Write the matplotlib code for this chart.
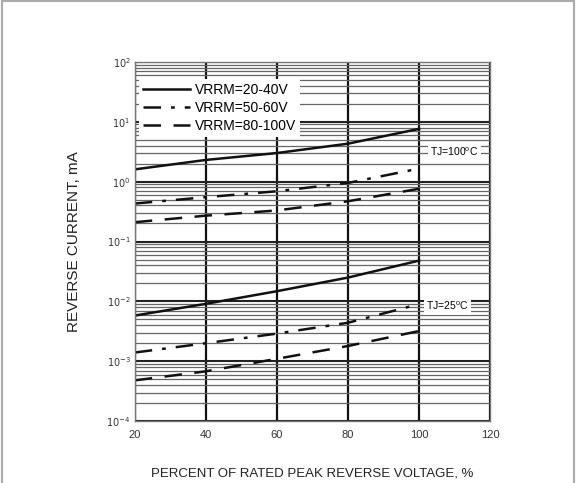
import matplotlib.pyplot as plt
from matplotlib.patches import Rectangle
from matplotlib.ticker import FixedLocator, NullFormatter

plt.rcParams['font.family'] = ['Liberation Sans', 'DejaVu Sans']

x = [20, 40, 60, 80, 100]

# Tj = 100 C
hot_20_40 = [1.6, 2.3, 3.0, 4.3, 7.6]
hot_50_60 = [0.43, 0.55, 0.69, 0.95, 1.65]
hot_80_100 = [0.21, 0.27, 0.33, 0.47, 0.76]

# Tj = 25 C
cold_20_40 = [0.0058, 0.0091, 0.0148, 0.025, 0.048]
cold_50_60 = [0.0014, 0.0020, 0.0029, 0.0044, 0.009]
cold_80_100 = [0.00048, 0.00068, 0.0011, 0.0018, 0.0032]

labels = ['VRRM=20-40V', 'VRRM=50-60V', 'VRRM=80-100V']
xticks = [20, 40, 60, 80, 100, 120]
yticks = [1e-4, 1e-3, 1e-2, 1e-1, 1e0, 1e1, 1e2]
ytick_labels = ['$10^{-4}$', '$10^{-3}$', '$10^{-2}$', '$10^{-1}$',
                '$10^{0}$', '$10^{1}$', '$10^{2}$']

fig = plt.figure(figsize=(5.76, 4.83), dpi=100)
ax = fig.add_axes([0.234, 0.128, 0.617, 0.744])

ax.set_yscale('log')
ax.set_xlim(20, 120)
ax.set_ylim(1e-4, 1e2)

# grid
minor = [m * 10.0 ** e for e in range(-4, 2) for m in range(2, 10)]
ax.yaxis.set_minor_locator(FixedLocator(minor))
ax.yaxis.set_minor_formatter(NullFormatter())
ax.grid(True, which='minor', axis='y', color='#666666', lw=0.9)
ax.grid(True, which='major', axis='y', color='#222222', lw=1.5)
ax.set_xticks(xticks)
ax.set_yticks(yticks)
ax.set_yticklabels(ytick_labels)
ax.grid(True, which='major', axis='x', color='#111111', lw=1.6)
ax.set_axisbelow(True)

styles = ['-', (0, (7, 4, 1.5, 4)), (0, (7, 5))]
for ys, ls, lab in zip([hot_20_40, hot_50_60, hot_80_100], styles, labels):
    ax.plot(x, ys, color='#111111', lw=1.8, ls=ls, label=lab)
for ys, ls in zip([cold_20_40, cold_50_60, cold_80_100], styles):
    ax.plot(x, ys, color='#111111', lw=1.8, ls=ls)

leg = ax.legend(loc='upper left', bbox_to_anchor=(0.0, 0.965), frameon=True,
                fancybox=False, edgecolor='none', framealpha=1, fontsize=10,
                handlelength=3.4, borderpad=0.3, labelspacing=0.3,
                handletextpad=0.3, borderaxespad=0.3)

ax.text(110, 3.2, 'TJ=100$^{\\mathregular{o}}$C', fontsize=7.5, ha='center',
        va='center', bbox=dict(facecolor='white', edgecolor='none', pad=1.5))
ax.text(108, 0.0083, 'TJ=25$^{\\mathregular{o}}$C', fontsize=7.5, ha='center',
        va='center', bbox=dict(facecolor='white', edgecolor='none', pad=1.5))

for s in ax.spines.values():
    s.set_color('#777777')
    s.set_linewidth(1.0)
ax.tick_params(axis='both', which='both', length=0, colors='#333333')
ax.tick_params(axis='x', labelsize=8, pad=6)
ax.tick_params(axis='y', labelsize=7, pad=3)

ax.set_xlabel('PERCENT OF RATED PEAK REVERSE VOLTAGE, %', fontsize=9.5,
              labelpad=20, color='#222222')
ax.set_ylabel('REVERSE CURRENT, mA', fontsize=11, labelpad=18, color='#222222')

# outer frame (bottom edge is cut off in the original)
fig.patches.append(Rectangle((0.003, -0.05), 0.994, 1.047, transform=fig.transFigure,
                             fill=False, edgecolor='#aaaaaa', lw=1.5))

plt.savefig('out.png', dpi=100)
